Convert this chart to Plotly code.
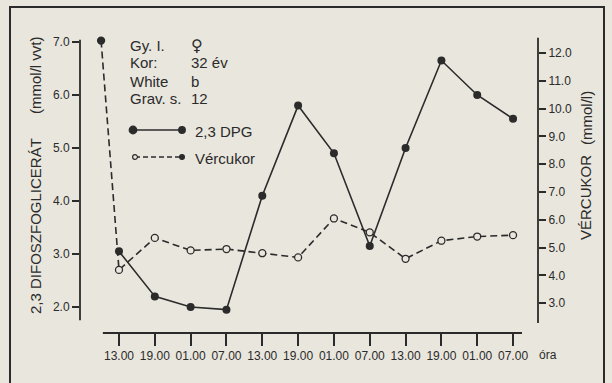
import plotly.graph_objects as go

# ---- data ----
tick_hours = [0, 6, 12, 18, 24, 30, 36, 42, 48, 54, 60, 66]
tick_labels = ["13.00", "19.00", "01.00", "07.00", "13.00", "19.00",
               "01.00", "07.00", "13.00", "19.00", "01.00", "07.00"]

dpg_hours = [0, 6, 12, 18, 24, 30, 36, 42, 48, 54, 60, 66]
dpg_values = [3.05, 2.2, 2.0, 1.95, 4.1, 5.8, 4.9, 3.15, 5.0, 6.65, 6.0, 5.55]

vc_hours = [-3, 0, 6, 12, 18, 24, 30, 36, 42, 48, 54, 60, 66]
vc_values = [12.45, 4.2, 5.35, 4.9, 4.95, 4.8, 4.65, 6.05, 5.55, 4.6, 5.25, 5.4, 5.45]

left_ticks = [2, 3, 4, 5, 6, 7]
right_ticks = [3, 4, 5, 6, 7, 8, 9, 10, 11, 12]

info_keys = ["Gy. I.", "Kor:", "White", "Grav. s."]
info_vals = ["♀", "32 év", "b", "12"]

# ---- style ----
W, H = 612, 383
L, R, T, B = 80, 74, 30, 50
BG = "#e9e6dd"
INK = "#2b2b2b"
FONT = "Liberation Sans, Arial, Helvetica, sans-serif"


def px(x):
    return (x - L) / (W - L - R)


def py(y):
    return (H - B - y) / (H - T - B)


fig = go.Figure()

fig.add_trace(go.Scatter(
    x=vc_hours, y=vc_values, yaxis="y2", mode="lines+markers",
    line=dict(color=INK, width=1.6, dash="7px,4px"),
    marker=dict(size=7, color=[INK] + [BG] * (len(vc_values) - 1),
                line=dict(color=INK, width=1.3)),
    showlegend=False))

fig.add_trace(go.Scatter(
    x=dpg_hours, y=dpg_values, yaxis="y", mode="lines+markers",
    line=dict(color=INK, width=1.6),
    marker=dict(size=8, color=INK),
    showlegend=False))

shapes = []
# x axis line (shorter than plot area)
shapes.append(dict(type="line", xref="x", yref="paper", x0=-2.7, x1=67.5,
                   y0=0, y1=0, line=dict(color=INK, width=1.8)))
# left y-axis line
shapes.append(dict(type="line", xref="paper", yref="y", x0=0, x1=0,
                   y0=1.75, y1=7.04, line=dict(color=INK, width=1.8)))
# right y-axis line
shapes.append(dict(type="line", xref="paper", yref="y2", x0=1, x1=1,
                   y0=2.29, y1=12.55, line=dict(color=INK, width=1.8)))
# frame
shapes.append(dict(type="rect", xref="paper", yref="paper",
                   x0=px(10), x1=px(604), y0=py(395), y1=py(7),
                   line=dict(color=INK, width=2)))
# legend swatches
shapes.append(dict(type="line", xref="paper", yref="paper",
                   x0=px(133), x1=px(182), y0=py(130), y1=py(130),
                   line=dict(color=INK, width=1.6)))
shapes.append(dict(type="line", xref="paper", yref="paper",
                   x0=px(135), x1=px(182), y0=py(157), y1=py(157),
                   line=dict(color=INK, width=1.4, dash="5px,3px")))


def dot(xc, yc, r, fill):
    return dict(type="circle", xref="paper", yref="paper",
                xsizemode="pixel", ysizemode="pixel",
                xanchor=px(xc), yanchor=py(yc),
                x0=-r, x1=r, y0=-r, y1=r,
                fillcolor=fill, line=dict(color=INK, width=1.2))


shapes += [dot(133, 130, 3.8, INK), dot(182, 130, 3.3, INK),
           dot(135, 157, 2.4, BG), dot(182, 157, 2.4, INK)]

annotations = []
rows_y = [45, 63, 81, 98]
for k, v, yy in zip(info_keys, info_vals, rows_y):
    annotations.append(dict(xref="paper", yref="paper", x=px(128), y=py(yy),
                            text=k, showarrow=False, xanchor="left",
                            yanchor="middle", font=dict(size=15, color=INK)))
    vfont = dict(size=15, color=INK)
    if v == "♀":
        vfont = dict(size=16, color=INK, family="DejaVu Sans, sans-serif")
    annotations.append(dict(xref="paper", yref="paper", x=px(189), y=py(yy),
                            text=v, showarrow=False, xanchor="left",
                            yanchor="middle", font=vfont))
annotations.append(dict(xref="paper", yref="paper", x=px(193), y=py(131),
                        text="2,3 DPG", showarrow=False, xanchor="left",
                        yanchor="middle", font=dict(size=15, color=INK)))
annotations.append(dict(xref="paper", yref="paper", x=px(193), y=py(158),
                        text="Vércukor", showarrow=False, xanchor="left",
                        yanchor="middle", font=dict(size=15, color=INK)))
# axis titles
annotations.append(dict(xref="paper", yref="paper", x=px(35), y=py(226),
                        text="2,3 DIFOSZFOGLICERÁT", textangle=-90,
                        showarrow=False, xanchor="center", yanchor="middle",
                        font=dict(size=15, color=INK)))
annotations.append(dict(xref="paper", yref="paper", x=px(35), y=py(75),
                        text="(mmol/l vvt)", textangle=-90,
                        showarrow=False, xanchor="center", yanchor="middle",
                        font=dict(size=15, color=INK)))
annotations.append(dict(xref="paper", yref="paper", x=px(585), y=py(198),
                        text="VÉRCUKOR", textangle=-90,
                        showarrow=False, xanchor="center", yanchor="middle",
                        font=dict(size=15, color=INK)))
annotations.append(dict(xref="paper", yref="paper", x=px(587), y=py(118),
                        text="(mmol/l)", textangle=-90,
                        showarrow=False, xanchor="center", yanchor="middle",
                        font=dict(size=15, color=INK)))
annotations.append(dict(xref="paper", yref="paper", x=px(537), y=py(355),
                        text="óra", showarrow=False, xanchor="left",
                        yanchor="middle", font=dict(size=12, color=INK)))

fig.update_layout(
    width=W, height=H,
    margin=dict(l=L, r=R, t=T, b=B, pad=0),
    paper_bgcolor=BG, plot_bgcolor=BG,
    font=dict(family=FONT, color=INK, size=12),
    showlegend=False,
    xaxis=dict(range=[-6.53, 70.18], tickvals=tick_hours, ticktext=tick_labels,
               ticks="outside", ticklen=12, tickwidth=1.6, tickcolor=INK,
               showline=False, showgrid=False, zeroline=False,
               tickfont=dict(size=12, color=INK)),
    yaxis=dict(range=[1.509, 7.226], tickvals=left_ticks,
               ticktext=[f"{v:.1f}" for v in left_ticks],
               ticks="outside", ticklen=7, tickwidth=1.6, tickcolor=INK,
               showline=False, showgrid=False, zeroline=False,
               tickfont=dict(size=12, color=INK)),
    yaxis2=dict(range=[1.93, 12.83], overlaying="y", side="right",
                tickvals=right_ticks,
                ticktext=[f"{v:.1f}" for v in right_ticks],
                ticks="outside", ticklen=7, tickwidth=1.6, tickcolor=INK,
                showline=False, showgrid=False, zeroline=False,
                tickfont=dict(size=12, color=INK)),
    shapes=shapes,
    annotations=annotations,
)

fig.write_html(
    "out.html",
    config={"displayModeBar": False},
    post_script="document.body.style.margin='0';"
                "document.body.style.overflow='hidden';"
                "document.body.style.background='" + BG + "';",
)
